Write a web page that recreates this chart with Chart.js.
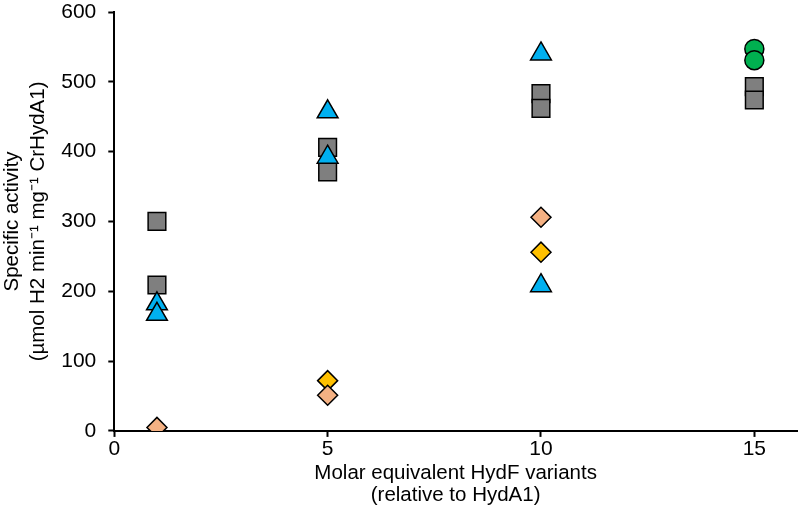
<!DOCTYPE html>
<html>
<head>
<meta charset="utf-8">
<script src="https://cdn.jsdelivr.net/npm/chart.js@4"></script>
<style>
  html, body { margin: 0; padding: 0; background: #fff; }
  #wrap { width: 798px; height: 529px; }
</style>
</head>
<body>
<div id="wrap"><canvas id="activityChart"></canvas></div>
<script>
  // values
  const squareX = [1, 1, 5, 5, 10, 10, 15, 15];
  const squareY = [300, 209, 406, 371, 483, 462, 493, 474];
  const triangleX = [1, 1, 5, 5, 10, 10];
  const triangleY = [182, 167, 457, 392, 540, 208];
  const salmonX = [1, 5, 10];
  const salmonY = [5, 51, 306];
  const yellowX = [5, 10];
  const yellowY = [72, 256];
  const greenX = [15, 15];
  const greenY = [547, 531];
  const xTicks = [0, 5, 10, 15];

  const pts = (xs, ys) => xs.map((x, i) => ({ x: x, y: ys[i] }));

  function series(xs, ys, style, color, radius) {
    return {
      data: pts(xs, ys),
      pointStyle: style,
      pointRadius: radius,
      pointHoverRadius: radius,
      backgroundColor: color,
      borderColor: "#000",
      borderWidth: 1.5
    };
  }

  Chart.defaults.font.family = "'Liberation Sans', Arial, sans-serif";
  Chart.defaults.color = "#000";

  new Chart(document.getElementById("activityChart"), {
    type: "scatter",
    data: {
      datasets: [
        series(triangleX, triangleY, "triangle", "#00b0f0", 12),
        series(salmonX, salmonY, "rectRot", "#f4b183", 10),
        series(yellowX, yellowY, "rectRot", "#ffc000", 10),
        series(squareX, squareY, "rect", "#7f7f7f", 12.5),
        series(greenX, greenY, "circle", "#00b050", 9.5)
      ]
    },
    options: {
      responsive: true,
      maintainAspectRatio: false,
      animation: false,
      layout: { autoPadding: false, padding: { left: 0, right: 1, top: 0, bottom: 22 } },
      plugins: { legend: { display: false }, tooltip: { enabled: false } },
      scales: {
        x: {
          type: "linear",
          min: 0,
          max: 16,
          afterBuildTicks: s => { s.ticks = xTicks.map(v => ({ value: v })); },
          afterFit: s => { s.paddingRight = 0; s.paddingLeft = 0; },
          border: { color: "#000", width: 2 },
          grid: { drawOnChartArea: false, color: "#000", tickLength: 6, tickWidth: 2 },
          ticks: { font: { size: 21, lineHeight: 1 }, padding: 2, maxRotation: 0 },
          title: {
            display: true,
            text: ["Molar equivalent HydF variants", "(relative to HydA1)"],
            font: { size: 20.5, lineHeight: 1.1 },
            padding: { top: 0, bottom: 0 }
          }
        },
        y: {
          min: 0,
          max: 600,
          afterFit: s => { s.paddingTop = 12; s.paddingBottom = 0; },
          border: { color: "#000", width: 2 },
          grid: { drawOnChartArea: false, color: "#000", tickLength: 6, tickWidth: 2 },
          ticks: { stepSize: 100, font: { size: 21 }, padding: 12 },
          title: {
            display: true,
            text: ["Specific activity", "(\u00b5mol H2 min\u207b\u00b9 mg\u207b\u00b9 CrHydA1)"],
            font: { size: 20.5, lineHeight: 1.25 },
            padding: { top: 0, bottom: -2 }
          }
        }
      }
    }
  });
</script>
</body>
</html>
